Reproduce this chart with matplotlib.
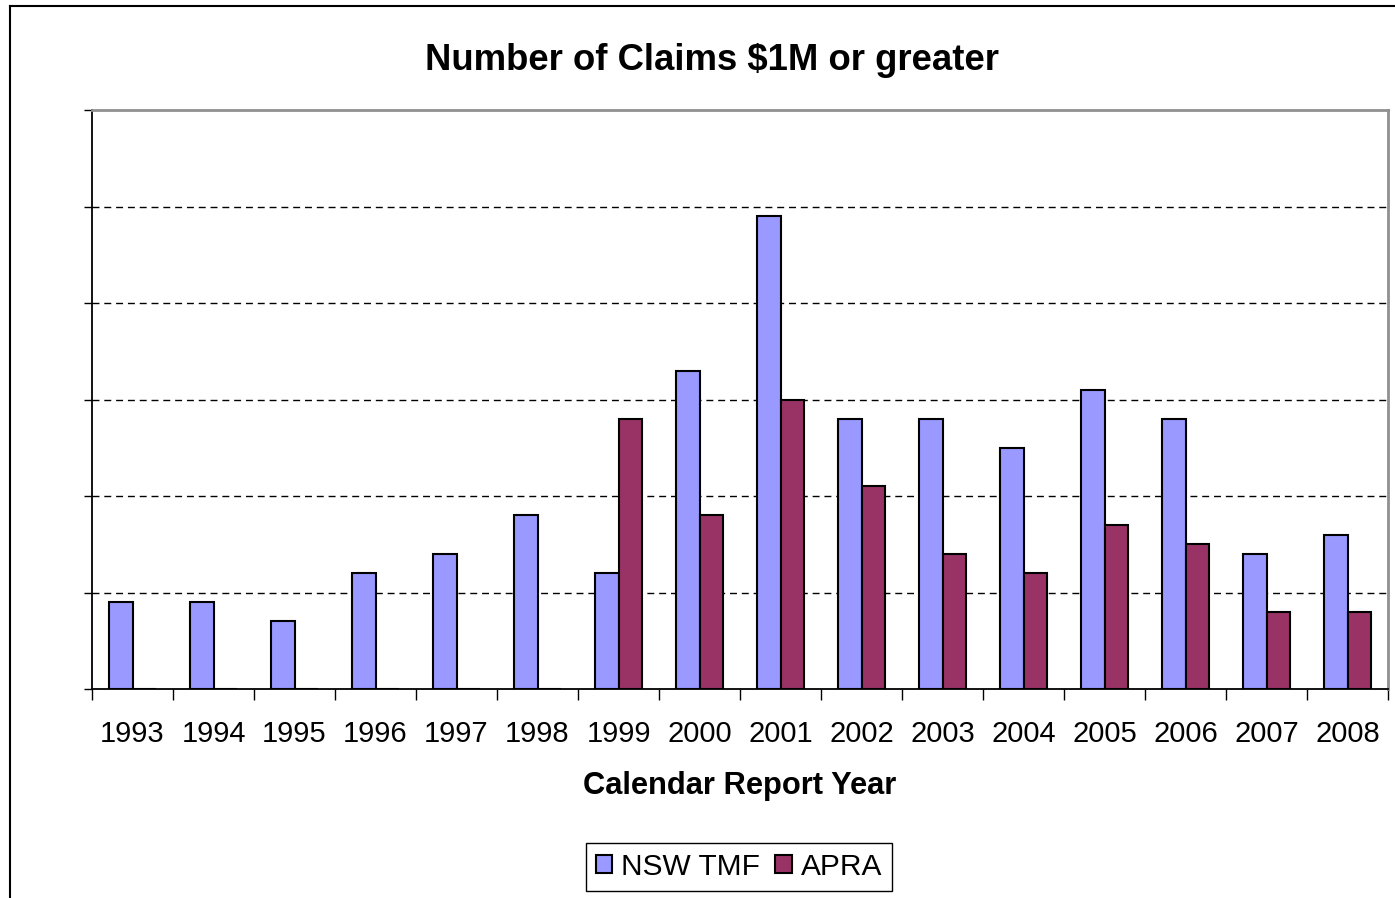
import numpy as np
import matplotlib.pyplot as plt
from matplotlib.lines import Line2D

plt.rcParams['font.family'] = ['Liberation Sans', 'DejaVu Sans']

# Data (grid step = 10 claims)
years = ['1993', '1994', '1995', '1996', '1997', '1998', '1999', '2000',
         '2001', '2002', '2003', '2004', '2005', '2006', '2007', '2008']
nsw_tmf = [9, 9, 7, 12, 14, 18, 12, 33, 49, 28, 28, 25, 31, 28, 14, 16]
apra = [0, 0, 0, 0, 0, 0, 28, 18, 30, 21, 14, 12, 17, 15, 8, 8]

W, H = 1395, 898
fig = plt.figure(figsize=(W / 100, H / 100), dpi=100)
ax = fig.add_axes([92 / W, 1 - 689 / H, (1388 - 92) / W, (689 - 110) / H])

x = np.arange(len(years))
w = 1 / 3.5
ax.bar(x - w / 2, nsw_tmf, w, color='#9999FF', edgecolor='black', linewidth=1.5,
       label='NSW TMF', zorder=3)
ax.bar(x + w / 2, apra, w, color='#993366', edgecolor='black', linewidth=1.5,
       label='APRA', zorder=3)

ax.set_xlim(-0.5, len(years) - 0.5)
ax.set_ylim(0, 60)
ax.set_yticks(np.arange(0, 61, 10))
ax.set_yticklabels([])
ax.tick_params(axis='y', length=6, width=1, color='black', direction='out')
for yv in range(10, 60, 10):
    ax.axhline(yv, color='black', lw=1, linestyle=(0, (5, 3.5)), zorder=1)

ax.set_xticks(x)
ax.set_xticklabels(years, fontsize=21)
ax.set_xticks(np.arange(-0.5, len(years)), minor=True)
ax.tick_params(axis='x', which='major', length=0, pad=22)
ax.tick_params(axis='x', which='minor', length=8, width=1, color='black', direction='out')
ax.set_xlabel('Calendar Report Year', fontsize=22.2, fontweight='bold', labelpad=17)

for s in ['left', 'bottom']:
    ax.spines[s].set_color('black')
    ax.spines[s].set_linewidth(1.3)
for s in ['top', 'right']:
    ax.spines[s].set_color('#909090')
    ax.spines[s].set_linewidth(2)

fig.text(712 / W, 1 - 60 / H, 'Number of Claims $1M or greater', fontsize=26.3,
         fontweight='bold', ha='center', va='center')

# outer chart frame
fig.add_artist(Line2D([10 / W, 1], [1 - 6 / H, 1 - 6 / H], transform=fig.transFigure,
                      color='black', lw=1.5))
fig.add_artist(Line2D([10 / W, 10 / W], [0, 1 - 6 / H], transform=fig.transFigure,
                      color='black', lw=1.5))

leg = fig.legend(loc='center', bbox_to_anchor=(739 / W, 1 - 867 / H), ncol=2,
                 fontsize=21.5, fancybox=False, edgecolor='black', framealpha=1,
                 handlelength=0.55, handleheight=0.55, handletextpad=0.3,
                 columnspacing=0.5, borderpad=0.35, borderaxespad=0)
leg.get_frame().set_linewidth(1)

fig.savefig('out.png', dpi=100)
